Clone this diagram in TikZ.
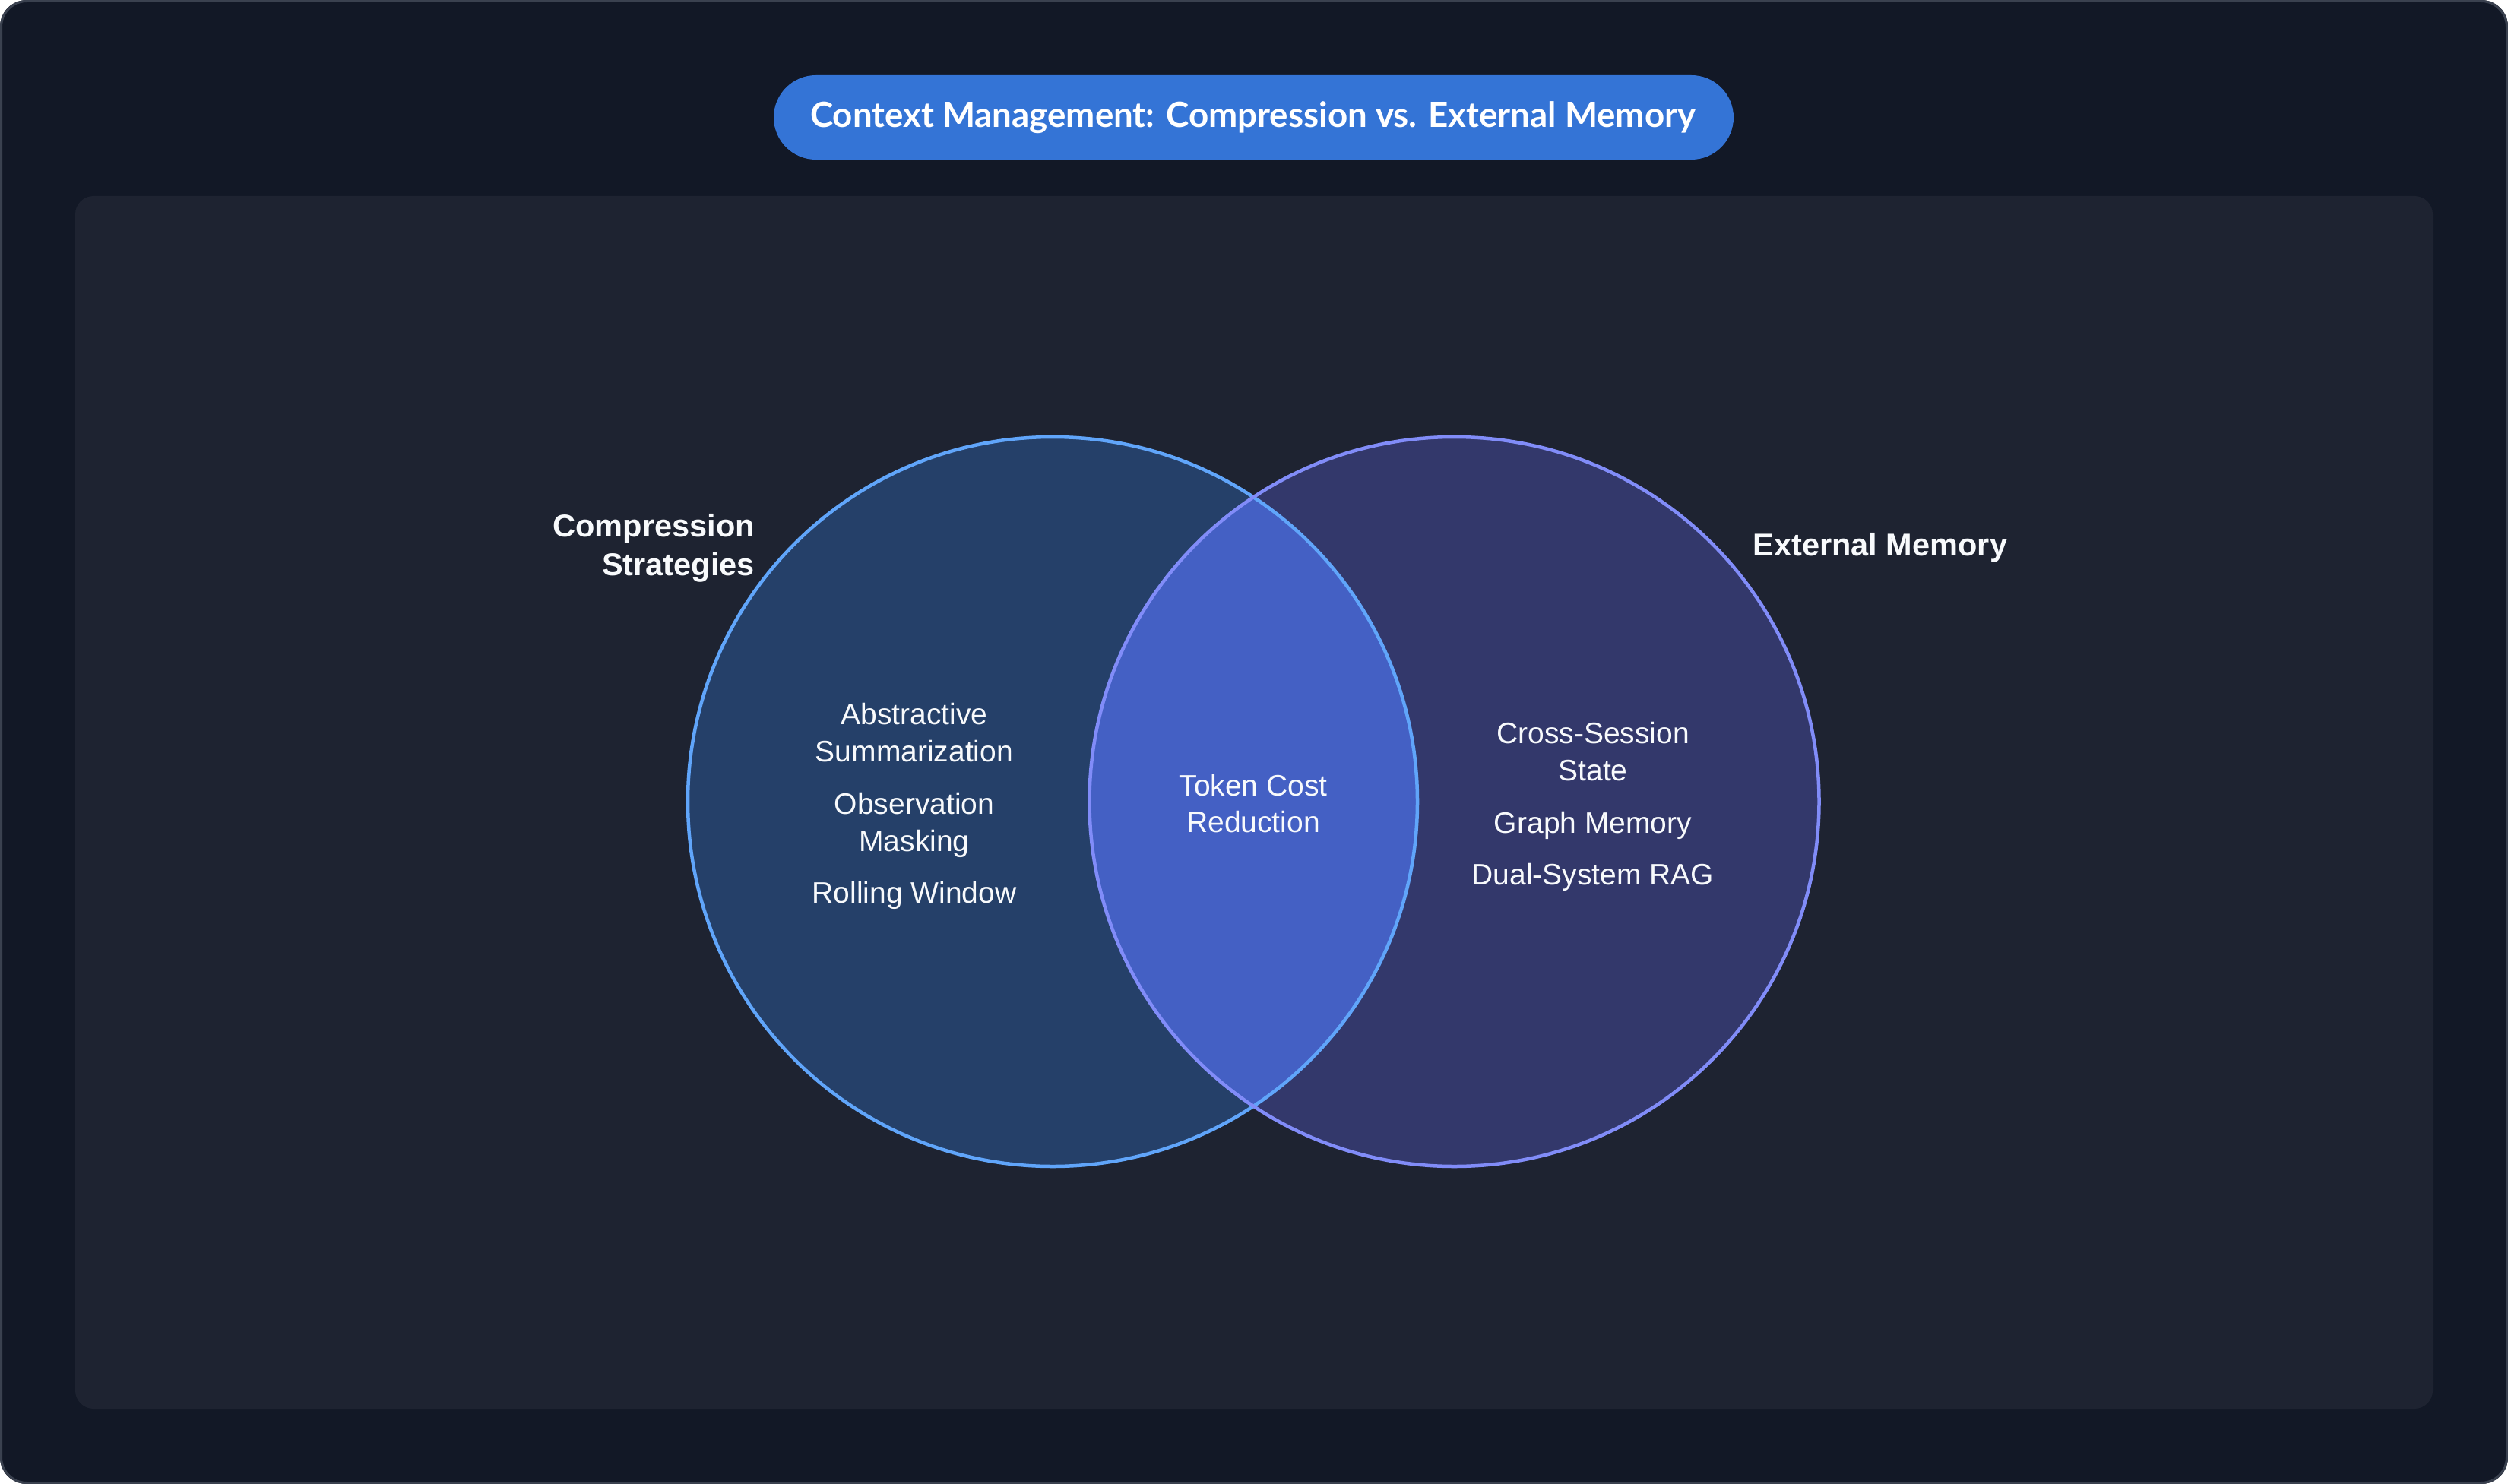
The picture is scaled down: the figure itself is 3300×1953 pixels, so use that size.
\documentclass[tikz,border=0pt]{standalone}
\usepackage{fontspec}
\usepackage{graphicx}
\setmainfont{Liberation Sans}
\newfontfamily\titlefont{Lato}
\definecolor{outerbg}{HTML}{121826}
\definecolor{border}{HTML}{3A414F}
\definecolor{panel}{HTML}{1E2331}
\definecolor{pill}{HTML}{3474D6}
\definecolor{lfill}{HTML}{254069}
\definecolor{lstroke}{HTML}{60A5FA}
\definecolor{rfill}{HTML}{33386B}
\definecolor{rstroke}{HTML}{818CF8}
\definecolor{lens}{HTML}{4460C4}
\definecolor{txt}{HTML}{F8FAFC}
\begin{document}
\begin{tikzpicture}[x=1pt,y=-1pt,
  item/.style={text=txt, font=\fontsize{39}{47}\selectfont, anchor=base, inner sep=0pt},
  lab/.style={text=txt, font=\bfseries\fontsize{41.5}{50}\selectfont, inner sep=0pt},
  venn/.style={circle, minimum size=960pt, inner sep=0pt}]
\useasboundingbox (0,0) rectangle (3300,1953);
\fill[outerbg, rounded corners=35pt] (0,0) rectangle (3300,1953);
\draw[border, line width=3pt, rounded corners=34pt] (1.5,1.5) rectangle (3298.5,1951.5);
\fill[panel, rounded corners=24pt] (99,258) rectangle (3201,1854);
% title
\node[fill=pill, rounded corners=55.5pt, minimum width=1263pt, minimum height=111pt, inner sep=0pt] (title) at (1649.5,154.5) {};
\node[text=white, anchor=base, inner sep=0pt] (titletext) at (1648.5,168)
  {\resizebox{1165pt}{!}{\titlefont\bfseries\fontsize{44}{50}\selectfont Context Management: Compression vs. External Memory}};
% circles
\node[venn, fill=lfill] (L) at (1385,1055) {};
\node[venn, fill=rfill] (R) at (1913.5,1055) {};
\begin{scope}
  \clip (1385,1055) circle (480);
  \fill[lens] (1913.5,1055) circle (480);
\end{scope}
\node[venn, draw=lstroke, line width=4.5pt] (Ls) at (L) {};
\node[venn, draw=rstroke, line width=4.5pt] (Rs) at (R) {};
% labels
\node[lab, anchor=base east] (cs1) at (993,706) {Compression};
\node[lab, anchor=base east] (cs2) at (993,757) {Strategies};
\node[lab, anchor=base west] (em) at (2306.5,731) {External Memory};
% left items
\node[item] (a1) at (1203,953.7) {Abstractive};
\node[item] (a2) at (1203,1002.8) {Summarization};
\node[item] (o1) at (1203,1071.7) {Observation};
\node[item] (o2) at (1203,1120.5) {Masking};
\node[item] (rw) at (1203,1188) {Rolling Window};
% lens items
\node[item] (t1) at (1649,1047.5) {Token Cost};
\node[item] (t2) at (1649,1095.5) {Reduction};
% right items
\node[item] (c1) at (2096,978.6) {Cross-Session};
\node[item] (c2) at (2096,1027) {State};
\node[item] (gm) at (2096,1096) {Graph Memory};
\node[item] (dr) at (2096,1164) {Dual-System RAG};
\end{tikzpicture}
\end{document}
